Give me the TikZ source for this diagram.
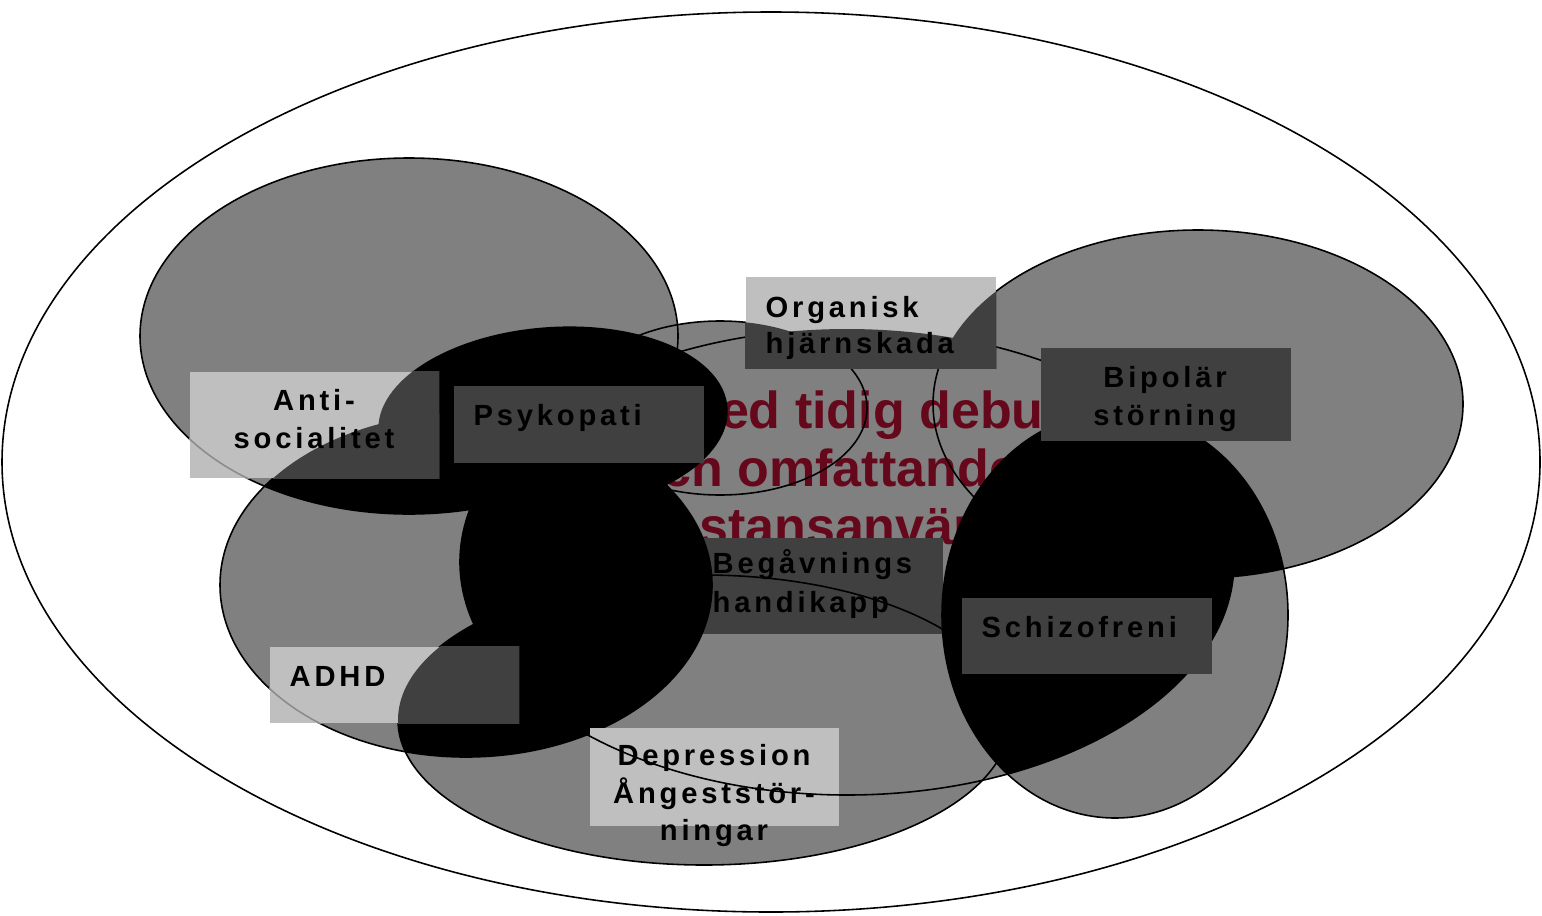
\documentclass[tikz,border=0pt]{standalone}
\usepackage{fontspec}
\setmainfont{Liberation Sans}
\newfontfamily\spacedfont{Liberation Sans}[LetterSpace=13]
\definecolor{boxlight}{RGB}{191,191,191}
\definecolor{boxdark}{RGB}{64,64,64}
\definecolor{wine}{RGB}{102,8,28}
% the overlapping ovals
\newcommand\ovAnti{(4.09,-3.36) ellipse [x radius=2.69, y radius=1.78]}
\newcommand\ovPsyk{(5.53,-4.20) ellipse [x radius=1.75, y radius=0.93, rotate=4]}
\newcommand\ovOrg{(7.20,-4.08) ellipse [x radius=1.47, y radius=0.87]}
\newcommand\ovBeg{(8.47,-5.62) ellipse [x radius=3.87, y radius=2.33]}
\newcommand\ovDep{(7.04,-7.20) ellipse [x radius=3.06, y radius=1.45]}
\newcommand\ovAdhd{(4.66,-5.85) ellipse [x radius=2.46, y radius=1.72]}
\newcommand\ovSchiz{(11.15,-6.15) ellipse [x radius=1.73, y radius=2.03]}
\newcommand\ovBip{(11.98,-4.04) ellipse [x radius=2.65, y radius=1.74]}
\begin{document}
\begin{tikzpicture}[
    rim/.style={draw=black, line width=0.45pt},
    lightbox/.style={fill=boxlight, inner sep=0pt, minimum width=2.5cm, anchor=north west},
    darkbox/.style={lightbox, fill=boxdark},
    lbl/.style={font=\spacedfont\bfseries\fontsize{8.3}{10}\selectfont, inner sep=0pt},
    redline/.style={font=\bfseries\fontsize{14.8}{17}\selectfont, text=wine, inner sep=0pt, anchor=base west}]
    \useasboundingbox (0,0) rectangle (15.42,-9.15);
    \draw[rim, fill=white] (7.71,-4.62) ellipse [x radius=7.69, y radius=4.50];% outer ring
    % grey fills first, outlines later
    \fill[gray] \ovAnti;
    \fill[gray] \ovOrg;
    \fill[gray] \ovBeg;
    \fill[gray] \ovDep;
    \fill[gray] \ovAdhd;
    \fill[gray] \ovBip;
    \fill[gray] \ovSchiz;
    % faded heading behind everything
    \node[redline] (head1) at (6.76,-4.28) {Med tidig debut};
    \node[redline] (head2) at (6.30,-4.86) {och omfattande};
    \node[redline] (head3) at (6.06,-5.44) {substansanvändning};
    % this box lies under the black overlaps
    \node[darkbox, minimum height=0.96cm] (begbox) at (6.92,-5.37) {};
    \node[lbl, anchor=base west] (beg1) at (7.12,-5.73) {Begåvnings};
    \node[lbl, anchor=base west] (beg2) at (7.12,-6.12) {handikapp};
    \draw[rim] \ovAnti;
    \draw[rim] \ovOrg;
    \draw[rim] \ovBeg;
    \draw[rim] \ovDep;
    \draw[rim] \ovAdhd;
    \draw[rim] \ovBip;
    \draw[rim] \ovSchiz;
    % overlaps in black
    \fill[black] \ovPsyk;
    \begin{scope}
      \clip \ovAdhd;
      \fill[black] \ovAnti;
      \fill[black] \ovBeg;
      \fill[black] \ovDep;
    \end{scope}
    \begin{scope}
      \clip \ovSchiz;
      \fill[black] \ovBip;
      \fill[black] \ovBeg;
    \end{scope}
    % label boxes
    \node[lightbox, minimum height=0.91cm] (orgbox) at (7.45,-2.76) {};
    \begin{scope}
      \clip (orgbox.south west) rectangle (orgbox.north east);
      \fill[boxdark] \ovOrg;
      \fill[boxdark] \ovBeg;
      \fill[boxdark] \ovBip;
    \end{scope}
    \node[lightbox, minimum width=2.49cm, minimum height=1.06cm] (antbox) at (1.89,-3.71) {};
    \begin{scope}
      \clip (antbox.south west) rectangle (antbox.north east);
      \fill[boxdark] \ovPsyk;
      \clip \ovAdhd;
      \fill[boxdark] \ovAnti;
    \end{scope}
    \node[darkbox, minimum height=0.77cm] (psybox) at (4.53,-3.85) {};
    \node[darkbox, minimum height=0.93cm] (bipbox) at (10.40,-3.47) {};
    \node[darkbox, minimum height=0.76cm] (schbox) at (9.61,-5.97) {};
    \node[lightbox, minimum width=2.49cm, minimum height=0.76cm] (adhbox) at (2.69,-6.46) {};
    \begin{scope}
      \clip (adhbox.south west) rectangle (adhbox.north east);
      \clip \ovAdhd;
      \fill[boxdark] \ovDep;
    \end{scope}
    \node[lightbox, minimum width=2.49cm, minimum height=0.98cm] (depbox) at (5.89,-7.27) {};
    % outlines that show through the boxes
    \begin{scope}
      \clip (depbox.south west) rectangle (depbox.north east);
      \draw[rim] \ovBeg;
    \end{scope}
    \begin{scope}
      \clip (antbox.south west) rectangle (antbox.north east);
      \draw[rim, draw=black!45] \ovAnti;
    \end{scope}
    \begin{scope}
      \clip (adhbox.south west) rectangle (adhbox.north east);
      \draw[rim, draw=black!45] \ovAdhd;
    \end{scope}
    % labels
    \node[lbl, anchor=base west] (org1) at (7.65,-3.17) {Organisk};
    \node[lbl, anchor=base west] (org2) at (7.65,-3.53) {hjärnskada};
    \node[lbl, anchor=base] (ant1) at (3.14,-4.10) {Anti-};
    \node[lbl, anchor=base] (ant2) at (3.14,-4.48) {socialitet};
    \node[lbl, anchor=base west] (psy) at (4.73,-4.25) {Psykopati};
    \node[lbl, anchor=base] (bip1) at (11.65,-3.87) {Bipolär};
    \node[lbl, anchor=base] (bip2) at (11.65,-4.25) {störning};
    \node[lbl, anchor=base west] (sch) at (9.81,-6.37) {Schizofreni};
    \node[lbl, anchor=base west] (adh) at (2.89,-6.86) {ADHD};
    \node[lbl, anchor=base] (dep1) at (7.14,-7.65) {Depression};
    \node[lbl, anchor=base] (dep2) at (7.14,-8.03) {Ångeststör-};
    \node[lbl, anchor=base] (dep3) at (7.14,-8.40) {ningar};
\end{tikzpicture}
\end{document}
